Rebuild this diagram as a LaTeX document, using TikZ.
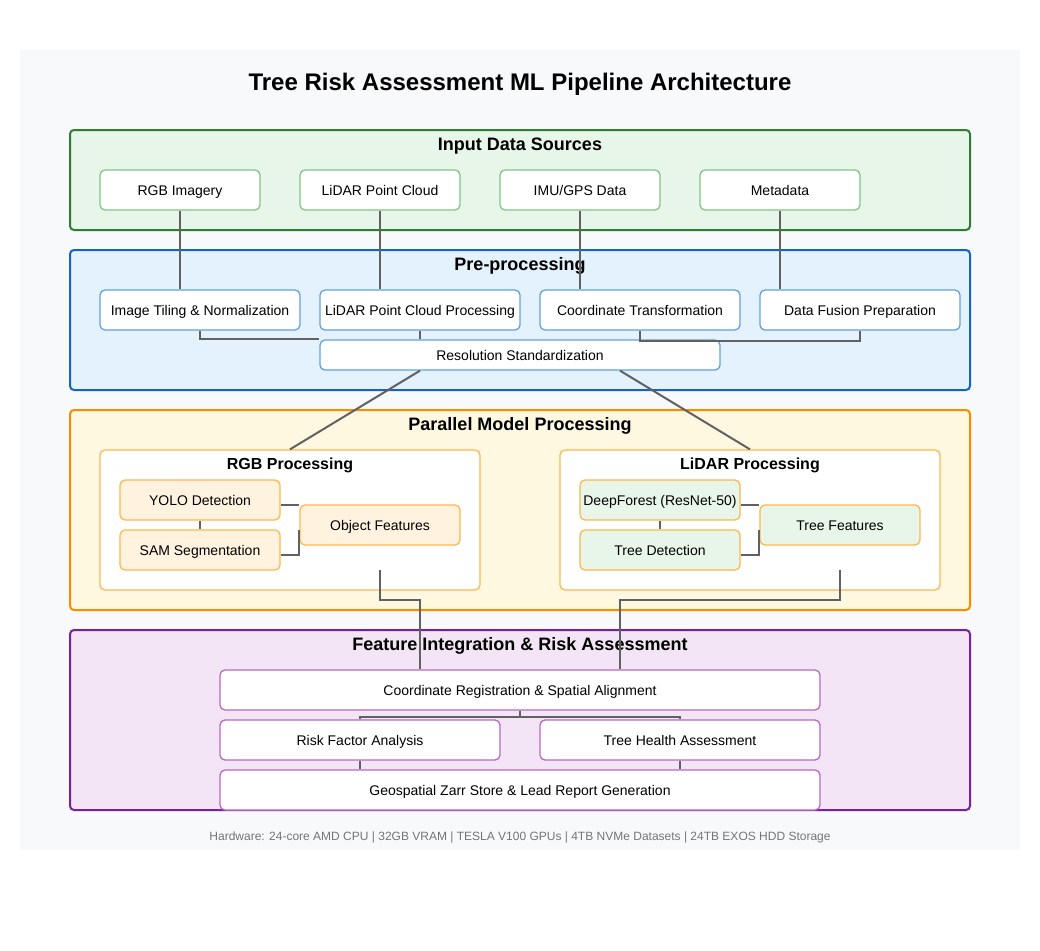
\documentclass[tikz,border=0pt]{standalone}
\usepackage{fontspec}
\setmainfont{Liberation Sans}
\usetikzlibrary{calc}
\definecolor{bgc}{HTML}{F8F9FA}
\definecolor{gstroke}{HTML}{2E7D32}
\definecolor{gfill}{HTML}{E8F5E9}
\definecolor{gbox}{HTML}{81C784}
\definecolor{bstroke}{HTML}{1565C0}
\definecolor{bfill}{HTML}{E3F2FD}
\definecolor{bbox}{HTML}{64A0E0}
\definecolor{ostroke}{HTML}{FB8C00}
\definecolor{ofill}{HTML}{FFF8E1}
\definecolor{obox}{HTML}{FFB74D}
\definecolor{ofill2}{HTML}{FFF3E0}
\definecolor{pstroke}{HTML}{7B1FA2}
\definecolor{pfill}{HTML}{F3E5F5}
\definecolor{pbox}{HTML}{BA68C8}
\definecolor{linec}{HTML}{616161}
\definecolor{hwc}{HTML}{757575}
\tikzset{
  container/.style={draw, line width=2pt, rounded corners=4pt, inner sep=0pt},
  basebox/.style={draw, line width=1.3pt, rounded corners=5pt, fill=white, inner sep=0pt, text height=10.2pt, text depth=0pt, font=\fontsize{14}{16}\selectfont},
  inbox/.style={basebox, draw=gbox, minimum width=160pt, minimum height=40pt},
  prebox/.style={basebox, draw=bbox, minimum width=200pt, minimum height=40pt},
  subgroup/.style={draw=obox, line width=1.3pt, rounded corners=5pt, fill=white, inner sep=0pt},
  rgbbox/.style={basebox, draw=obox, fill=ofill2, minimum width=160pt, minimum height=40pt},
  lidbox/.style={basebox, draw=obox, fill=gfill, minimum width=160pt, minimum height=40pt},
  intbox/.style={basebox, draw=pbox},
  grouptitle/.style={text height=13pt, text depth=0pt, font=\fontsize{18}{20}\selectfont\bfseries},
  subtitle/.style={text height=11.6pt, text depth=0pt, font=\fontsize{16}{18}\selectfont\bfseries},
  conn/.style={draw=linec, line width=2pt},
}
\begin{document}
\begin{tikzpicture}[x=1pt,y=-1pt]
\useasboundingbox (0,0) rectangle (1040,950);
\fill[white] (0,0) rectangle (1040,950);
\fill[bgc] (20,50) rectangle (1020,850);
\node[text height=17.4pt, text depth=0pt, font=\fontsize{24}{27}\selectfont\bfseries] (title) at (520,82) {Tree Risk Assessment ML Pipeline Architecture};

% containers
\node[container, draw=gstroke, fill=gfill, minimum width=900pt, minimum height=100pt] (inputs) at (520,180) {};
\node[container, draw=bstroke, fill=bfill, minimum width=900pt, minimum height=140pt] (prep) at (520,320) {};
\node[container, draw=ostroke, fill=ofill, minimum width=900pt, minimum height=200pt] (par) at (520,510) {};
\node[container, draw=pstroke, fill=pfill, minimum width=900pt, minimum height=180pt] (integ) at (520,720) {};
\node[grouptitle] (inputsT) at (520,144) {Input Data Sources};
\node[grouptitle] (prepT) at (520,264) {Pre-processing};
\node[grouptitle] (parT) at (520,424) {Parallel Model Processing};
\node[grouptitle] (integT) at (520,644) {Feature Integration \& Risk Assessment};

\node[subgroup, minimum width=380pt, minimum height=140pt] (rgbp) at (290,520) {};
\node[subgroup, minimum width=380pt, minimum height=140pt] (lidp) at (750,520) {};
\node[subtitle] (rgbpT) at (290,464) {RGB Processing};
\node[subtitle] (lidpT) at (750,464) {LiDAR Processing};

% coordinates for free ends
\coordinate (rgbout) at (380,570);
\coordinate (lidout) at (840,570);

% boxes
\node[inbox] (rgb) at (180,190) {RGB Imagery};
\node[inbox] (lidar) at (380,190) {LiDAR Point Cloud};
\node[inbox] (imu) at (580,190) {IMU/GPS Data};
\node[inbox] (meta) at (780,190) {Metadata};

\node[prebox] (tile) at (200,310) {Image Tiling \& Normalization};
\node[prebox] (lpp) at (420,310) {LiDAR Point Cloud Processing};
\node[prebox] (coord) at (640,310) {Coordinate Transformation};
\node[prebox] (fusion) at (860,310) {Data Fusion Preparation};
\node[basebox, draw=bbox, minimum width=400pt, minimum height=30pt] (res) at (520,355) {Resolution Standardization};

\node[rgbbox] (yolo) at (200,500) {YOLO Detection};
\node[rgbbox] (sam) at (200,550) {SAM Segmentation};
\node[rgbbox] (objf) at (380,525) {Object Features};
\node[lidbox] (deep) at (660,500) {DeepForest (ResNet-50)};
\node[lidbox] (tdet) at (660,550) {Tree Detection};
\node[lidbox] (tfeat) at (840,525) {Tree Features};

\node[intbox, minimum width=600pt, minimum height=40pt] (coreg) at (520,690) {Coordinate Registration \& Spatial Alignment};
\node[intbox, minimum width=280pt, minimum height=40pt] (risk) at (360,740) {Risk Factor Analysis};
\node[intbox, minimum width=280pt, minimum height=40pt] (health) at (680,740) {Tree Health Assessment};
\node[intbox, minimum width=600pt, minimum height=40pt] (geo) at (520,790) {Geospatial Zarr Store \& Lead Report Generation};

\node[text height=8.8pt, text depth=0pt, font=\fontsize{12}{14}\selectfont, text=hwc] (hw) at (520,836) {Hardware: 24-core AMD CPU | 32GB VRAM | TESLA V100 GPUs | 4TB NVMe Datasets | 24TB EXOS HDD Storage};

% connectors
\draw[conn] (rgb.south) -- (tile.north -| rgb.south);
\draw[conn] (lidar.south) -- (lpp.north -| lidar.south);
\draw[conn] (imu.south) -- (coord.north -| imu.south);
\draw[conn] (meta.south) -- (fusion.north -| meta.south);
\draw[conn] (tile.south) |- (res.north west);
\draw[conn] (lpp.south) -- (lpp.south |- res.north);
\draw[conn] (coord.south) -- ++(0,10) -| (fusion.south);
\draw[conn] ([xshift=-100pt]res.south) -- (rgbp.north);
\draw[conn] ([xshift=100pt]res.south) -- (lidp.north);
\draw[conn] (yolo.south) -- (sam.north);
\draw[conn] ([yshift=-5pt]yolo.east) -- ([yshift=-5pt]yolo.east -| objf.west);
\draw[conn] ([yshift=-5pt]sam.east) -| ([yshift=-5pt]objf.west);
\draw[conn] (deep.south) -- (tdet.north);
\draw[conn] ([yshift=-5pt]deep.east) -- ([yshift=-5pt]deep.east -| tfeat.west);
\draw[conn] ([yshift=-5pt]tdet.east) -| ([yshift=-5pt]tfeat.west);
\draw[conn] (rgbout) -- ++(0,30) -| ([xshift=-100pt]coreg.north);
\draw[conn] (lidout) -- ++(0,30) -| ([xshift=100pt]coreg.north);
\draw[conn] (coreg.south) -- ++(0,6) -| (risk.north);
\draw[conn] (coreg.south) -- ++(0,6) -| (health.north);
\draw[conn] (risk.south) -- (risk.south |- geo.north);
\draw[conn] (health.south) -- (health.south |- geo.north);
\end{tikzpicture}
\end{document}
